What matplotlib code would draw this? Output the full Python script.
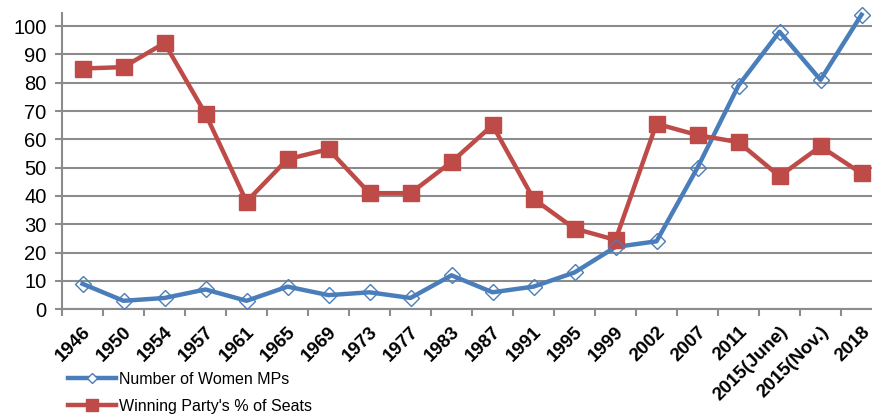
import matplotlib
matplotlib.use("Agg")
import matplotlib.pyplot as plt
from matplotlib.lines import Line2D

categories = ["1946", "1950", "1954", "1957", "1961", "1965", "1969", "1973", "1977",
              "1983", "1987", "1991", "1995", "1999", "2002", "2007", "2011",
              "2015(June)", "2015(Nov.)", "2018"]
women_mps = [9, 3, 4, 7, 3, 8, 5, 6, 4, 12, 6, 8, 13, 22, 24, 50, 79, 98, 81, 104]
winning_pct = [85, 85.5, 94, 69, 38, 53, 56.5, 41, 41, 52, 65, 39, 28.5, 24.5,
               65.5, 61.5, 59, 47, 57.5, 48]
y_ticks = list(range(0, 101, 10))

BLUE = "#4A7EBB"
RED = "#BE4B48"
GRID = "#8C8C8C"

plt.rcParams["font.family"] = ["Liberation Sans", "DejaVu Sans"]

fig = plt.figure(figsize=(8.72, 4.15), dpi=100)
ax = fig.add_axes([62 / 872, (415 - 309.3) / 415, 820 / 872, (309.3 - 13) / 415])

x = list(range(len(categories)))
ax.plot(x, women_mps, color=BLUE, lw=3.2, zorder=3, solid_joinstyle="round", clip_on=False)
ax.plot(x, women_mps, ls="none", marker="D", ms=8.5, mfc="none",
        mec=BLUE, mew=1.0, zorder=5, clip_on=False)
ax.plot(x, winning_pct, color=RED, lw=3.2, marker="s", ms=11, mfc=RED,
        mec=RED, zorder=4, clip_on=False)

ax.set_xlim(-0.5, len(categories) - 0.5)
ax.set_ylim(0, 104.6)
ax.set_yticks(y_ticks)
ax.set_yticklabels([str(v) for v in y_ticks], fontsize=14.5)
ax.yaxis.grid(True, color=GRID, lw=1.5)
ax.set_axisbelow(True)

ax.set_xticks([i - 0.5 for i in range(len(categories) + 1)], minor=False)
ax.set_xticklabels([])
ax.set_xticks(x, minor=True)
ax.set_xticklabels(categories, minor=True, rotation=45, ha="right", va="top",
                   rotation_mode="anchor", fontsize=13.5, fontweight="bold")
ax.tick_params(axis="x", which="major", length=5, width=1.5, color=GRID, direction="out")
ax.tick_params(axis="x", which="minor", length=0, pad=10)
ax.tick_params(axis="y", length=5, width=1.5, color=GRID, pad=6)

for s in ["top", "right"]:
    ax.spines[s].set_visible(False)
for s in ["left", "bottom"]:
    ax.spines[s].set_color(GRID)
    ax.spines[s].set_linewidth(1.5)

handles = [
    Line2D([], [], color=BLUE, lw=3.2, marker="D", ms=5, mfc="white", mec=BLUE, mew=1.0),
    Line2D([], [], color=RED, lw=3.2, marker="s", ms=8, mfc=RED, mec=RED),
]
fig.legend(handles, ["Number of Women MPs", "Winning Party's % of Seats"],
           loc="upper left", bbox_to_anchor=(68 / 872, 1 - 372 / 415),
           frameon=False, fontsize=11.5, handlelength=3.0, handletextpad=0.2,
           labelspacing=0.75, borderpad=0, borderaxespad=0)

fig.savefig("out.png", dpi=100)
